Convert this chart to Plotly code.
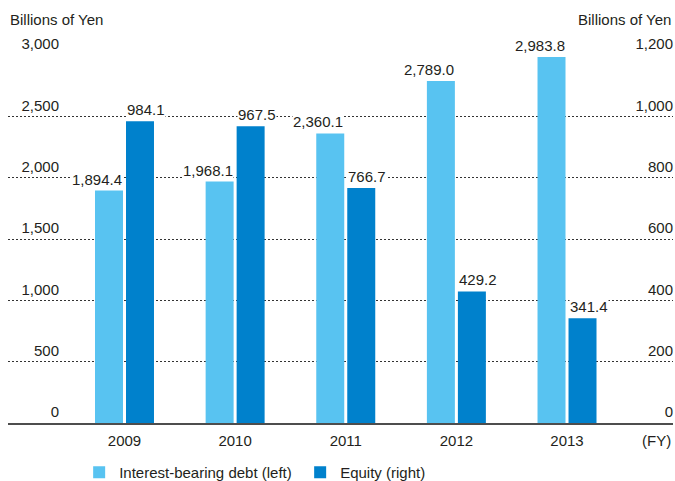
import plotly.graph_objects as go

# Fiscal years and balances (billions of yen)
years = ["2009", "2010", "2011", "2012", "2013"]
debt = [1894.4, 1968.1, 2360.1, 2789.0, 2983.8]      # left axis
equity = [984.1, 967.5, 766.7, 429.2, 341.4]         # right axis

left_ticks = [0, 500, 1000, 1500, 2000, 2500, 3000]
right_ticks = [0, 200, 400, 600, 800, 1000, 1200]

LIGHT = "#58C3F1"
DARK = "#0081CC"
TEXT = "#231F20"
FONT = "Liberation Sans"

xs = list(range(len(years)))
bar_w = 0.253
gap = 0.0136

fig = go.Figure()
fig.add_trace(go.Bar(
    x=xs, y=debt, name="Interest-bearing debt (left)",
    marker=dict(color=LIGHT, line=dict(width=0)),
    width=bar_w, offset=-gap - bar_w, yaxis="y",
))
fig.add_trace(go.Bar(
    x=xs, y=equity, name="Equity (right)",
    marker=dict(color=DARK, line=dict(width=0)),
    width=bar_w, offset=gap, yaxis="y2",
))

annotations = []
for i, v in enumerate(debt):
    annotations.append(dict(
        x=i - gap, y=v, xref="x", yref="y", text=f"{v:,.1f}",
        xanchor="right", yanchor="bottom", showarrow=False, yshift=2,
        bgcolor="white", borderpad=0, font=dict(size=15, color=TEXT, family=FONT),
    ))
for i, v in enumerate(equity):
    annotations.append(dict(
        x=i + gap, y=v, xref="x", yref="y2", text=f"{v:,.1f}",
        xanchor="left", yanchor="bottom", showarrow=False, yshift=2,
        bgcolor="white", borderpad=0, font=dict(size=15, color=TEXT, family=FONT),
    ))
annotations += [
    dict(x=0, y=1, xref="paper", yref="paper", text="Billions of Yen",
         xanchor="left", yanchor="bottom", yshift=25, showarrow=False,
         font=dict(size=15, color=TEXT, family=FONT)),
    dict(x=1, y=1, xref="paper", yref="paper", text="Billions of Yen",
         xanchor="right", yanchor="bottom", yshift=25, showarrow=False,
         font=dict(size=15, color=TEXT, family=FONT)),
    dict(x=1, y=0, xref="paper", yref="paper", text="(FY)",
         xanchor="right", yanchor="top", yshift=-7, showarrow=False,
         font=dict(size=15, color=TEXT, family=FONT)),
]

fig.update_layout(
    width=675, height=481,
    margin=dict(l=8, r=2, t=55, b=58, autoexpand=False),
    paper_bgcolor="white", plot_bgcolor="white",
    font=dict(family=FONT, size=15, color=TEXT),
    barmode="overlay",
    showlegend=True,
    legend=dict(orientation="h", x=0.107, y=-0.09, xanchor="left", yanchor="top",
                entrywidth=176, entrywidthmode="pixels",
                font=dict(size=15, color=TEXT, family=FONT)),
    xaxis=dict(
        range=[-1.053, 4.958], tickvals=xs, ticktext=years,
        showgrid=False, zeroline=False,
        showline=True, linecolor="#4D4D4D", linewidth=2,
        ticks="", ticklabelstandoff=3, fixedrange=True,
    ),
    yaxis=dict(
        range=[0, 3000], tickvals=left_ticks,
        ticktext=[f"{t:,}" for t in left_ticks],
        anchor="free", position=(59 - 8) / 665, side="left",
        showgrid=True, gridcolor="#333333", gridwidth=1, griddash="2px,2px",
        zeroline=False, showline=False, ticks="",
        ticklabelshift=-11, ticklabelstandoff=0,
    ),
    yaxis2=dict(
        range=[0, 1200], tickvals=right_ticks,
        ticktext=[f"{t:,}" for t in right_ticks],
        overlaying="y", side="left", anchor="free", position=1.0,
        showgrid=False, zeroline=False, showline=False, ticks="",
        ticklabelshift=-11, ticklabelstandoff=0,
    ),
    annotations=annotations,
)

fig.write_html("out.html")
